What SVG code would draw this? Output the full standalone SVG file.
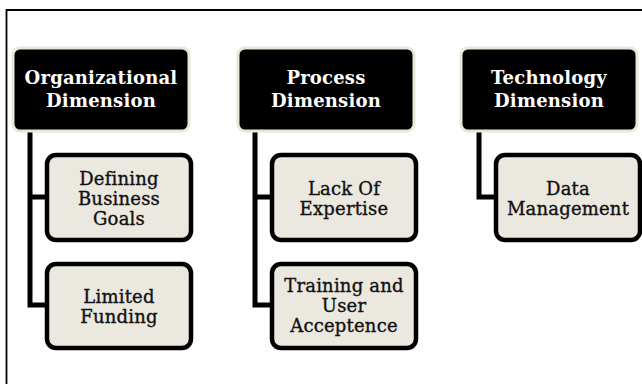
<svg xmlns="http://www.w3.org/2000/svg" width="642" height="384" viewBox="0 0 642 384">
  <style>
    .frame { fill: none; stroke: #000; stroke-width: 1.8; }
    .head { fill: #000; stroke: #e9e6da; stroke-width: 3; }
    .item { fill: #ebe8e0; stroke: #000; stroke-width: 4.5; }
    .link { fill: none; stroke: #000; stroke-width: 5; stroke-linejoin: miter; }
    .ht { font-family: "DejaVu Serif", "Liberation Serif", serif; font-weight: bold; font-size: 18px; fill: #fff; text-anchor: middle; letter-spacing: 0.2px; }
    .it { font-family: "DejaVu Serif", "Liberation Serif", serif; font-size: 18px; fill: #111; stroke: #111; stroke-width: 0.35; text-anchor: middle; letter-spacing: 0.2px; }
  </style>
  <rect width="642" height="384" fill="#fff"/>
  <path class="frame" d="M6.5 384 V10 H642"/>

  <g id="connectors">
    <path class="link" d="M30 131 V305 H47 M30 197 H47"/>
    <path class="link" d="M255 131 V305 H272 M255 197 H272"/>
    <path class="link" d="M479 131 V197 H496"/>
  </g>

  <g id="organizational">
    <rect class="head" x="13" y="48" width="176" height="83" rx="7"/>
    <text class="ht" x="101" y="84">Organizational</text>
    <text class="ht" x="101" y="107">Dimension</text>
  </g>
  <g id="defining-goals">
    <rect class="item" x="47" y="155" width="144" height="85" rx="9"/>
    <text class="it" x="119" y="185">Defining</text>
    <text class="it" x="119" y="205">Business</text>
    <text class="it" x="119" y="225">Goals</text>
  </g>
  <g id="limited-funding">
    <rect class="item" x="47" y="264" width="144" height="84" rx="9"/>
    <text class="it" x="119" y="303">Limited</text>
    <text class="it" x="119" y="323">Funding</text>
  </g>

  <g id="process">
    <rect class="head" x="238" y="48" width="176" height="83" rx="7"/>
    <text class="ht" x="326" y="84">Process</text>
    <text class="ht" x="326" y="107">Dimension</text>
  </g>
  <g id="lack-of-expertise">
    <rect class="item" x="272" y="155" width="144" height="85" rx="9"/>
    <text class="it" x="344" y="195">Lack Of</text>
    <text class="it" x="344" y="215">Expertise</text>
  </g>
  <g id="training">
    <rect class="item" x="272" y="264" width="144" height="84" rx="9"/>
    <text class="it" x="344" y="292">Training and</text>
    <text class="it" x="344" y="312">User</text>
    <text class="it" x="344" y="332">Acceptence</text>
  </g>

  <g id="technology">
    <rect class="head" x="461" y="48" width="176" height="83" rx="7"/>
    <text class="ht" x="549" y="84">Technology</text>
    <text class="ht" x="549" y="107">Dimension</text>
  </g>
  <g id="data-management">
    <rect class="item" x="496" y="155" width="144" height="85" rx="9"/>
    <text class="it" x="568" y="195">Data</text>
    <text class="it" x="568" y="215">Management</text>
  </g>
</svg>
